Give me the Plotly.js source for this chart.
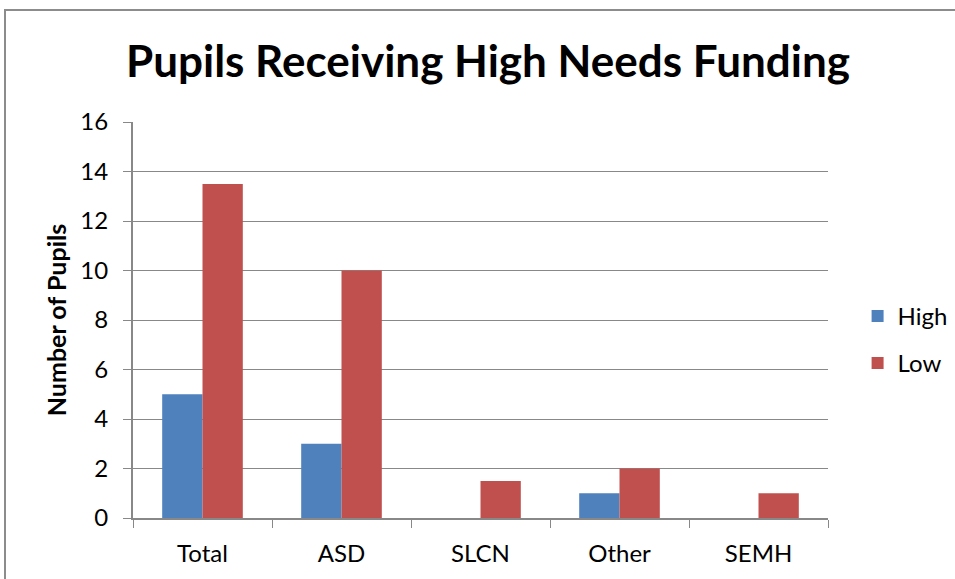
<!DOCTYPE html>
<html>
<head>
<meta charset="utf-8">
<script src="https://cdn.plot.ly/plotly-3.0.1.min.js"></script>
<style>
html,body{margin:0;padding:0;background:#fff;}
#chart{width:955px;height:579px;position:absolute;left:0;top:0;}
#frame{position:absolute;left:4px;top:9px;width:1000px;height:700px;border:2px solid #8c8c8c;pointer-events:none;}
</style>
</head>
<body>
<div id="chart"></div>
<div id="frame"></div>
<script>
const categories = ["Total", "ASD", "SLCN", "Other", "SEMH"];
const highValues = [5, 3, 0, 1, 0];
const lowValues = [13.5, 10, 1.5, 2, 1];
const yTicks = [0, 2, 4, 6, 8, 10, 12, 14, 16];

const font = "Lato, 'Open Sans', sans-serif";

const traces = [
  {type: "bar", name: "High", x: categories, y: highValues, marker: {color: "#4F81BD"}, legendgroup: "h"},
  {type: "bar", name: "Low", x: categories, y: lowValues, marker: {color: "#C0504D"}, legendgroup: "l"}
];

const layout = {
  width: 955, height: 579,
  margin: {l: 133, r: 127, t: 122, b: 61, autoexpand: false},
  paper_bgcolor: "#fff", plot_bgcolor: "#fff",
  font: {family: font, size: 24, color: "#000"},
  title: {text: "<b>Pupils Receiving High Needs Funding</b>", font: {family: font, size: 44, color: "#000"}, x: 0.511, xanchor: "center", y: 0.893, yanchor: "middle"},
  barmode: "group",
  bargap: 0.42,
  bargroupgap: 0,
  showlegend: true,
  legend: {xref: "container", x: 0.898, xanchor: "left", y: 0.45, yanchor: "middle", font: {family: font, size: 24}, traceorder: "grouped", tracegroupgap: 13, itemwidth: 30},
  xaxis: {
    type: "category", tickson: "boundaries", ticks: "outside", ticklen: 8, tickcolor: "#888",
    showline: true, linecolor: "#888", linewidth: 2, showgrid: false,
    tickfont: {family: font, size: 24}, ticklabelstandoff: 13, automargin: false
  },
  yaxis: {
    range: [0, 16], tickvals: yTicks, ticks: "outside", ticklen: 8, tickcolor: "#888",
    showline: true, linecolor: "#888", linewidth: 2, showgrid: true, gridcolor: "#888", gridwidth: 1,
    zeroline: false, tickfont: {family: font, size: 24}, ticklabelstandoff: 10,
    title: {text: "<b>Number of Pupils</b>", font: {family: font, size: 25}, standoff: 7},
    automargin: false
  }
};

Plotly.newPlot("chart", traces, layout, {displayModeBar: false, staticPlot: true});
</script>
</body>
</html>
